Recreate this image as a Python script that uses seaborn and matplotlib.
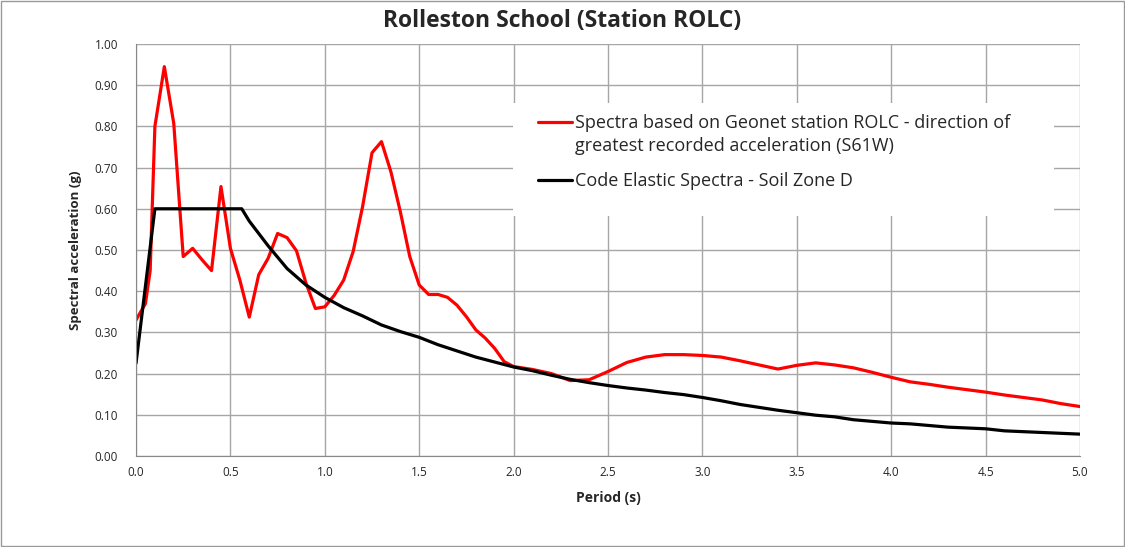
import pandas as pd
import matplotlib
matplotlib.use("Agg")
import matplotlib.pyplot as plt
import seaborn as sns
from matplotlib.patches import Rectangle
from matplotlib.lines import Line2D

# recorded spectrum (red)
rec_T = [0, 0.05, 0.075, 0.1, 0.15, 0.2, 0.25, 0.3, 0.35, 0.4, 0.45, 0.5, 0.55, 0.6, 0.65,
         0.7, 0.75, 0.8, 0.85, 0.9, 0.95, 1.0, 1.05, 1.1, 1.15, 1.2, 1.25, 1.3, 1.35, 1.4,
         1.45, 1.5, 1.55, 1.6, 1.65, 1.7, 1.75, 1.8, 1.85, 1.9, 1.95, 2.0, 2.1, 2.2, 2.3,
         2.4, 2.5, 2.6, 2.7, 2.8, 2.9, 3.0, 3.1, 3.2, 3.3, 3.4, 3.5, 3.6, 3.7, 3.8, 3.9,
         4.0, 4.1, 4.2, 4.3, 4.4, 4.5, 4.6, 4.7, 4.8, 4.9, 5.0]
rec_Sa = [0.33, 0.37, 0.45, 0.80, 0.945, 0.807, 0.484, 0.504, 0.476, 0.45, 0.654, 0.504,
          0.427, 0.337, 0.44, 0.48, 0.54, 0.53, 0.498, 0.42, 0.358, 0.362, 0.39, 0.427,
          0.496, 0.605, 0.736, 0.763, 0.69, 0.593, 0.484, 0.415, 0.392, 0.392, 0.385,
          0.366, 0.338, 0.306, 0.286, 0.261, 0.229, 0.217, 0.210, 0.200, 0.183, 0.185,
          0.205, 0.227, 0.240, 0.246, 0.246, 0.244, 0.240, 0.231, 0.221, 0.211, 0.220,
          0.226, 0.221, 0.214, 0.203, 0.191, 0.180, 0.174, 0.167, 0.161, 0.155, 0.148,
          0.142, 0.136, 0.127, 0.120]

# code elastic spectrum (black)
code_T = [0, 0.1, 0.56, 0.6, 0.7, 0.8, 0.9, 1.0, 1.1, 1.2, 1.3, 1.4, 1.5, 1.6, 1.7, 1.8,
          1.9, 2.0, 2.1, 2.2, 2.3, 2.4, 2.5, 2.6, 2.7, 2.8, 2.9, 3.0, 3.1, 3.2, 3.3, 3.4,
          3.5, 3.6, 3.7, 3.8, 3.9, 4.0, 4.1, 4.2, 4.3, 4.4, 4.5, 4.6, 4.7, 4.8, 4.9, 5.0]
code_Sa = [0.225, 0.60, 0.60, 0.57, 0.51, 0.455, 0.415, 0.385, 0.36, 0.34, 0.318, 0.302,
           0.288, 0.27, 0.255, 0.24, 0.228, 0.216, 0.207, 0.196, 0.186, 0.178, 0.171,
           0.165, 0.160, 0.154, 0.149, 0.142, 0.134, 0.125, 0.118, 0.111, 0.105, 0.099,
           0.095, 0.088, 0.084, 0.080, 0.078, 0.074, 0.070, 0.068, 0.066, 0.061, 0.059,
           0.057, 0.055, 0.053]

rec_label = ["Spectra based on Geonet station ROLC - direction of",
             "greatest recorded acceleration (S61W)"]
code_label = "Code Elastic Spectra - Soil Zone D"

df_rec = pd.DataFrame({"T": rec_T, "Sa": rec_Sa})
df_code = pd.DataFrame({"T": code_T, "Sa": code_Sa})

sns.set_style("white")
plt.rcParams['font.family'] = ['Open Sans', 'DejaVu Sans']

fig = plt.figure(figsize=(11.25, 5.47), dpi=100)
ax = fig.add_axes([0.1209, 0.1664, 0.8391, 0.7532])

sns.lineplot(data=df_rec, x="T", y="Sa", ax=ax, color="#ff0000", linewidth=2.3,
             sort=False, estimator=None, legend=False)
sns.lineplot(data=df_code, x="T", y="Sa", ax=ax, color="black", linewidth=2.3,
             sort=False, estimator=None, legend=False)

ax.set_xlim(0, 5)
ax.set_ylim(0, 1)
ax.set_xticks([i * 0.5 for i in range(11)])
ax.set_yticks([i * 0.1 for i in range(11)])
ax.set_xticklabels([f"{i * 0.5:.1f}" for i in range(11)], fontsize=8.5)
ax.set_yticklabels([f"{i * 0.1:.2f}" for i in range(11)], fontsize=8.5)
ax.grid(True, color="#a6a6a6", linewidth=1)
ax.tick_params(axis="y", direction="out", length=5, color="#888888", pad=8)
ax.tick_params(axis="x", direction="out", length=3, color="#888888", pad=4)
for s in ["top", "right"]:
    ax.spines[s].set_visible(False)
for s in ["left", "bottom"]:
    ax.spines[s].set_color("#888888")

ax.set_xlabel("Period (s)", fontsize=10, fontweight="bold", va="center")
ax.xaxis.set_label_coords(0.5, -0.102)
ax.set_ylabel("Spectral acceleration (g)", fontsize=9.5, fontweight="bold", va="center")
ax.yaxis.set_label_coords(-0.0646, 0.5)
fig.text(0.5, 0.962, "Rolleston School (Station ROLC)", ha="center", va="center",
         fontsize=16.5, fontweight="bold")

# white legend area covering the grid
ax.add_patch(Rectangle((0.3994, 0.5825), 0.5731, 0.2743, transform=ax.transAxes,
                       facecolor="white", edgecolor="none", zorder=1))

red_line, code_line = ax.lines[0], ax.lines[1]
blank = Line2D([], [], linestyle="none")
leg1 = ax.legend([red_line, blank], rec_label, loc="center left",
                 bbox_to_anchor=(0.4258, 0.780), frameon=False, fontsize=13,
                 handlelength=1.9, handletextpad=0.15, labelspacing=0.3,
                 borderpad=0, borderaxespad=0)
ax.add_artist(leg1)
ax.legend([code_line], [code_label], loc="center left",
          bbox_to_anchor=(0.4258, 0.667), frameon=False, fontsize=13,
          handlelength=1.9, handletextpad=0.15, borderpad=0, borderaxespad=0)

fig.patches.append(Rectangle((0.001, 0.001), 0.998, 0.997, transform=fig.transFigure,
                             fill=False, edgecolor="#999999", linewidth=1))

fig.savefig("out.png", dpi=100)
